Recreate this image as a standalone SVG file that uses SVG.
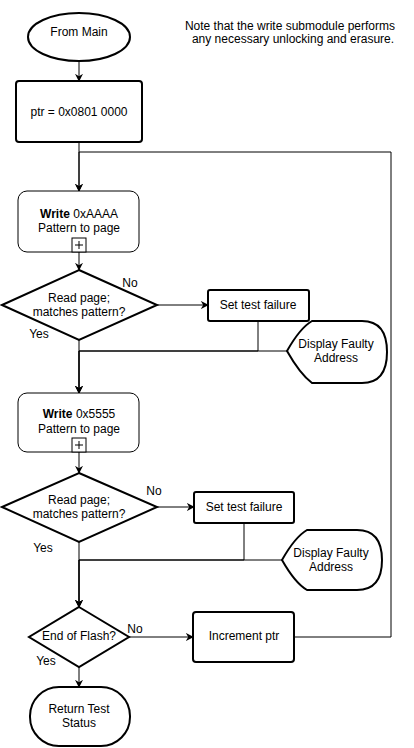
<svg xmlns="http://www.w3.org/2000/svg" width="414" height="748" viewBox="0 0 414 748">
<style>
.s{fill:#fff;stroke:#000;stroke-width:2}
.t{font-family:"Liberation Sans",Arial,sans-serif;font-size:12px;fill:#000;text-anchor:middle}
.c{fill:none;stroke:#000;stroke-width:1}
.pb{fill:#fff;stroke:#000;stroke-width:1}
</style>
<defs>
<marker id="a" viewBox="0 0 10 10" refX="9" refY="5" markerWidth="8" markerHeight="8" markerUnits="userSpaceOnUse" orient="auto">
<path d="M0,0 L10,5 L0,10 L3,5 Z" fill="#000"/>
</marker>
</defs>
<rect width="414" height="748" fill="#fff"/>
<g id="connectors">
<path class="c" d="M79,61 V81" marker-end="url(#a)"/>
<path class="c" d="M79,142 V191" marker-end="url(#a)"/>
<path class="c" d="M294,637 H391 V152 H79 V191" marker-end="url(#a)"/>
<path class="c" d="M79,252 V270" marker-end="url(#a)"/>
<path class="c" d="M157,305 H208" marker-end="url(#a)"/>
<path class="c" d="M79,340 V393" marker-end="url(#a)"/>
<path class="c" d="M258,321 V351 H79 V393" marker-end="url(#a)"/>
<path class="c" d="M287,351 H79 V393" marker-end="url(#a)"/>
<path class="c" d="M79,452 V473" marker-end="url(#a)"/>
<path class="c" d="M157,507 H194" marker-end="url(#a)"/>
<path class="c" d="M79,542 V607" marker-end="url(#a)"/>
<path class="c" d="M244,523 V560 H79 V607" marker-end="url(#a)"/>
<path class="c" d="M282,560 H79 V607" marker-end="url(#a)"/>
<path class="c" d="M129,637 H193" marker-end="url(#a)"/>
<path class="c" d="M79,667 V687" marker-end="url(#a)"/>
<text class="t" x="130" y="287">No</text>
<text class="t" x="39" y="338">Yes</text>
<text class="t" x="154" y="495">No</text>
<text class="t" x="43" y="552">Yes</text>
<text class="t" x="135" y="633">No</text>
<text class="t" x="46" y="665">Yes</text>
</g>
<g id="note">
<text class="t" x="290" y="30">Note that the write submodule performs</text>
<text class="t" x="293" y="43">any necessary unlocking and erasure.</text>
</g>
<g id="from-main">
<ellipse class="s" cx="79" cy="37" rx="51" ry="24"/>
<text class="t" x="79" y="36">From Main</text>
</g>
<g id="ptr-init">
<rect class="s" x="16" y="81" width="126" height="61" rx="3"/>
<text class="t" x="79" y="116">ptr = 0x0801 0000</text>
</g>
<g id="write-aaaa">
<rect class="pb" x="18" y="191" width="121" height="61" rx="9"/>
<text class="t" x="79" y="218"><tspan font-weight="bold">Write</tspan> 0xAAAA</text>
<text class="t" x="79" y="232">Pattern to page</text>
<rect class="pb" x="72" y="238" width="14" height="14"/>
<path class="c" d="M79,241 V249 M75,245 H83"/>
</g>
<g id="check-1">
<path class="s" d="M79,270 L157,305 L79,340 L2,305 Z"/>
<text class="t" x="79" y="302">Read page;</text>
<text class="t" x="79" y="316">matches pattern?</text>
</g>
<g id="fail-1">
<rect class="s" x="208" y="290" width="101" height="31" rx="2"/>
<text class="t" x="258" y="309">Set test failure</text>
</g>
<g id="display-1">
<path class="s" d="M287,351 Q300,328 312,321 H362 Q387,321 387,352 Q387,383 362,383 H312 Q300,374 287,351 Z"/>
<text class="t" x="336" y="348">Display Faulty</text>
<text class="t" x="336" y="362">Address</text>
</g>
<g id="write-5555">
<rect class="pb" x="18" y="393" width="121" height="59" rx="9"/>
<text class="t" x="79" y="418"><tspan font-weight="bold">Write</tspan> 0x5555</text>
<text class="t" x="79" y="433">Pattern to page</text>
<rect class="pb" x="72" y="438" width="14" height="14"/>
<path class="c" d="M79,441 V449 M75,445 H83"/>
</g>
<g id="check-2">
<path class="s" d="M79,473 L157,507 L79,542 L2,507 Z"/>
<text class="t" x="79" y="504">Read page;</text>
<text class="t" x="79" y="518">matches pattern?</text>
</g>
<g id="fail-2">
<rect class="s" x="194" y="492" width="100" height="31" rx="2"/>
<text class="t" x="244" y="511">Set test failure</text>
</g>
<g id="display-2">
<path class="s" d="M282,560 Q295,537 307,530 H357 Q382,530 382,560 Q382,590 357,590 H307 Q295,583 282,560 Z"/>
<text class="t" x="331" y="557">Display Faulty</text>
<text class="t" x="331" y="571">Address</text>
</g>
<g id="end-of-flash">
<path class="s" d="M79,607 L129,637 L79,667 L29,637 Z"/>
<text class="t" x="79" y="640">End of Flash?</text>
</g>
<g id="increment">
<rect class="s" x="193" y="612" width="101" height="50" rx="3"/>
<text class="t" x="244" y="640">Increment ptr</text>
</g>
<g id="return">
<rect class="s" x="30" y="687" width="100" height="59" rx="29"/>
<text class="t" x="79" y="713">Return Test</text>
<text class="t" x="79" y="727">Status</text>
</g>
</svg>
